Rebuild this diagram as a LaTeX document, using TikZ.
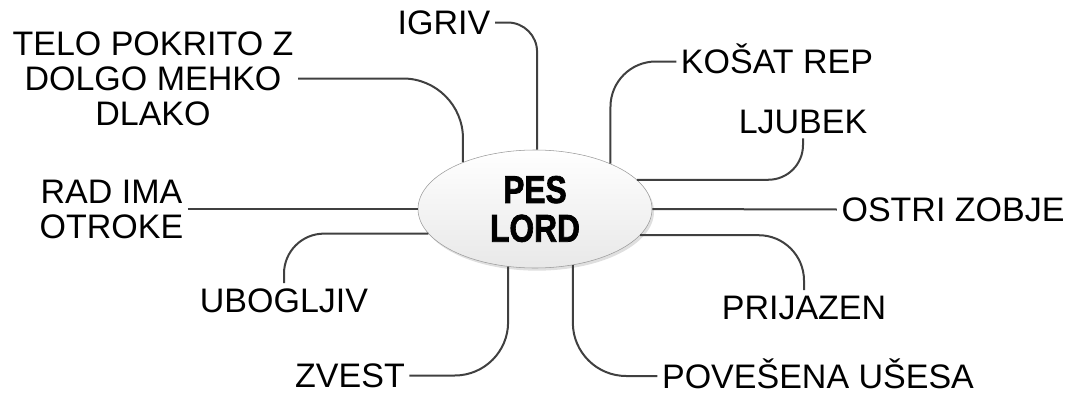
\documentclass[tikz,border=0pt]{standalone}
\usepackage{fontspec}
\setmainfont{Liberation Sans}
\newfontface\heavyfont[FakeBold=2]{Liberation Sans Bold}
\usetikzlibrary{shapes,positioning,shadows}

\tikzset{
    leaf/.style={font=\fontsize{25.5}{26.25}\selectfont, text height=18.3pt, text depth=0pt},
    leaves/.style={font=\fontsize{25.5}{26.25}\selectfont, align=center},
    link/.style={draw=black!75, line width=1.5pt},
    hub/.style={ellipse, draw=gray!80, top color=white, bottom color=gray!18,
        minimum width=175.5pt, minimum height=88.5pt, inner sep=0pt,
        drop shadow={opacity=0.25, shadow xshift=1.5pt, shadow yshift=-2pt},
        font=\heavyfont\fontsize{29}{29}\selectfont, align=center}
}
\newcommand{\narrow}[1]{\scalebox{0.82}[1]{#1}}

\begin{document}
\begin{tikzpicture}[x=0.75pt,y=-0.75pt]
    \useasboundingbox (0,0) rectangle (1075,396);
    \node[hub] (pes) at (535,209) {\narrow{PES}\\\narrow{LORD}};

    \node[leaf] (igriv) at (444,22.5) {IGRIV};
    \node[leaves] (telo) at (153,78.5) {TELO POKRITO Z\\DOLGO MEHKO\\DLAKO};
    \node[leaf] (kosat) at (777,61.5) {KOŠAT REP};
    \node[leaf] (ljubek) at (803,121.5) {LJUBEK};
    \node[leaves] (rad) at (111.5,209) {RAD IMA\\OTROKE};
    \node[leaf] (ostri) at (953,209.5) {OSTRI ZOBJE};
    \node[leaf] (uboga) at (284,300) {UBOGLJIV};
    \node[leaf] (prijazen) at (804,307) {PRIJAZEN};
    \node[leaf] (zvest) at (350,375.5) {ZVEST};
    \node[leaf] (povesena) at (818,376) {POVEŠENA UŠESA};

    \draw[link, rounded corners=22pt] (igriv.east) -| (pes.88);
    \draw[link, rounded corners=45pt] (telo.east) -| (pes.147);
    \draw[link, rounded corners=34pt] (kosat.west) -| (pes.31);
    \draw[link, rounded corners=26pt] (ljubek.south) |- (pes.16);
    \draw[link] (rad.east) -- (pes.180);
    \draw[link] (ostri.west) -- (pes.0);
    \draw[link, rounded corners=30pt] (uboga.north) |- (pes.193);
    \draw[link, rounded corners=34pt] (prijazen.north) |- (pes.-14);
    \draw[link, rounded corners=40pt] (zvest.east) -| (pes.-115);
    \draw[link, rounded corners=40pt] (povesena.west) -| (pes.-56);
\end{tikzpicture}
\end{document}
